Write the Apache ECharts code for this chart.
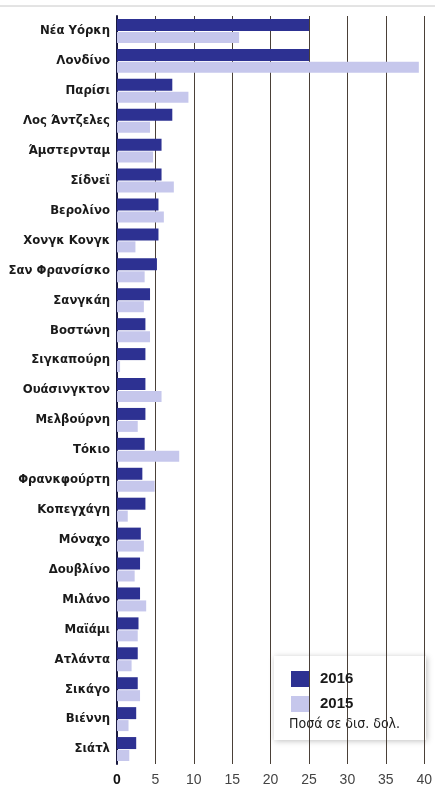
<!DOCTYPE html>
<html>
<head>
<meta charset="utf-8">
<style>
html,body{margin:0;padding:0;background:#fff;}
#chart{width:435px;height:787px;}
</style>
<script src="https://cdn.jsdelivr.net/npm/echarts@6/dist/echarts.min.js"></script>
</head>
<body>
<div id="chart"></div>
<script>
var cities = ['Νέα Υόρκη','Λονδίνο','Παρίσι','Λος Άντζελες','Άμστερνταμ','Σίδνεϊ','Βερολίνο','Χονγκ Κονγκ','Σαν Φρανσίσκο','Σανγκάη','Βοστώνη','Σιγκαπούρη','Ουάσινγκτον','Μελβούρνη','Τόκιο','Φρανκφούρτη','Κοπεγχάγη','Μόναχο','Δουβλίνο','Μιλάνο','Μαϊάμι','Ατλάντα','Σικάγο','Βιέννη','Σιάτλ'];
var v2016 = [25, 25, 7.2, 7.2, 5.8, 5.8, 5.4, 5.4, 5.2, 4.3, 3.7, 3.7, 3.7, 3.7, 3.6, 3.3, 3.7, 3.1, 3.0, 3.0, 2.8, 2.7, 2.7, 2.5, 2.5];
var v2015 = [15.9, 39.3, 9.3, 4.3, 4.7, 7.4, 6.1, 2.4, 3.6, 3.5, 4.3, 0.4, 5.8, 2.7, 8.1, 4.9, 1.4, 3.5, 2.3, 3.8, 2.7, 1.9, 3.0, 1.5, 1.6];
var xTicks = [0, 5, 10, 15, 20, 25, 30, 35, 40];

var condensed = '"DejaVu Sans Condensed", "Liberation Sans", sans-serif';

var chart = echarts.init(document.getElementById('chart'));

var option = {
    animation: false,
    grid: {
        left: 117,
        right: 8,
        top: 16,
        bottom: 22
    },
    legend: {
        data: ['2016', '2015'],
        orient: 'vertical',
        left: 286,
        top: 666,
        itemWidth: 18,
        itemHeight: 16,
        itemGap: 9,
        icon: 'rect',
        textStyle: {
            fontFamily: 'Liberation Sans',
            fontWeight: 'bold',
            fontSize: 15,
            color: '#1a1a1a',
            padding: [0, 0, 0, 6]
        }
    },
    xAxis: {
        type: 'value',
        min: 0,
        max: 40,
        interval: 5,
        axisLine: { show: false },
        axisTick: { show: false },
        splitLine: {
            show: true,
            lineStyle: { color: '#4a4038', width: 1 }
        },
        axisLabel: {
            margin: 9,
            fontFamily: 'Liberation Sans',
            fontSize: 14,
            color: '#444',
            formatter: function (v) {
                return xTicks.indexOf(v) === 0 ? '{z|' + v + '}' : String(v);
            },
            rich: {
                z: { fontWeight: 'bold', color: '#111', fontSize: 14, fontFamily: 'Liberation Sans' }
            }
        }
    },
    yAxis: {
        type: 'category',
        data: cities,
        inverse: true,
        axisTick: { show: false },
        axisLine: {
            show: true,
            lineStyle: { color: '#1a1a40', width: 2 }
        },
        axisLabel: {
            margin: 7,
            fontFamily: condensed,
            fontWeight: 'bold',
            fontSize: 13,
            color: '#1a1a1a',
            padding: [0, 0, 6, 0]
        }
    },
    graphic: [
        {
            type: 'line',
            shape: { x1: 0, y1: 6, x2: 435, y2: 6 },
            style: { stroke: '#c8c8c8', lineWidth: 1 }
        },
        {
            type: 'rect',
            z: -1,
            shape: { x: 274, y: 656, width: 152, height: 84 },
            style: {
                fill: '#fff',
                shadowBlur: 6,
                shadowColor: 'rgba(0,0,0,0.25)',
                shadowOffsetX: 1,
                shadowOffsetY: 1
            }
        },
        {
            type: 'text',
            left: 289,
            top: 717,
            style: {
                text: 'Ποσά σε δισ. δολ.',
                fontFamily: condensed,
                fontSize: 14,
                fill: '#222'
            }
        }
    ],
    series: [
        {
            name: '2016',
            type: 'bar',
            barWidth: 12,
            barGap: '8%',
            itemStyle: { color: '#2d3192' },
            data: v2016
        },
        {
            name: '2015',
            type: 'bar',
            barWidth: 11,
            itemStyle: { color: '#c6c7ec' },
            data: v2015
        }
    ]
};

chart.setOption(option);
</script>
</body>
</html>
